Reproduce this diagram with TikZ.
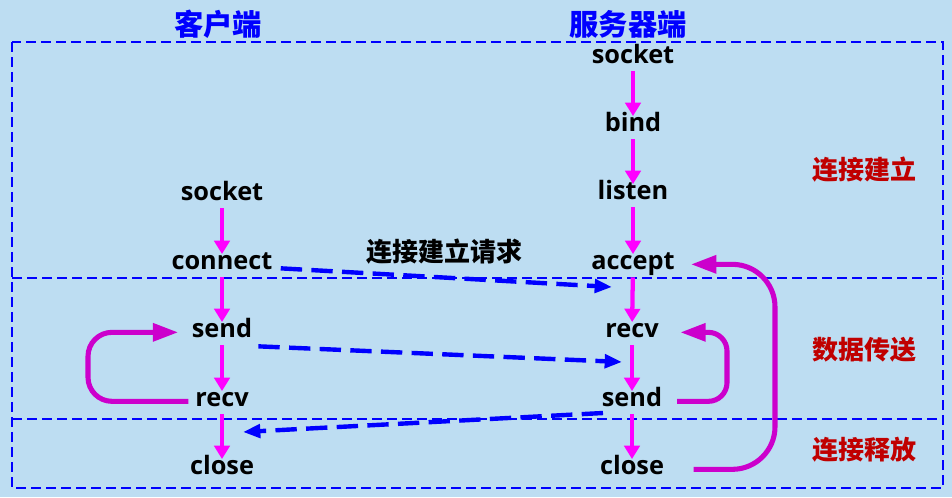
\documentclass[tikz,border=0pt]{standalone}
\usepackage{fontspec}
\setmainfont{Open Sans}
\newfontfamily\cjk{Noto Sans CJK SC}
\usetikzlibrary{arrows.meta}
\definecolor{bg}{RGB}{189,221,242}
\definecolor{mag}{RGB}{255,0,255}
\definecolor{loopc}{RGB}{204,0,204}
\definecolor{dred}{RGB}{192,0,0}
\definecolor{fblue}{RGB}{0,0,255}
\begin{document}
\begin{tikzpicture}[x=0.75pt,y=-0.75pt,
  lbl/.style={font=\fontsize{19}{22}\selectfont\bfseries, inner sep=0pt, text height=10pt, text depth=3pt, anchor=base},
  title/.style={font=\cjk\fontsize{22}{26}\selectfont\bfseries, text=fblue},
  phase/.style={font=\cjk\fontsize{19.5}{23}\selectfont\bfseries, text=dred},
  frame/.style={draw=fblue, line width=1.5pt, dash pattern=on 7.5pt off 3.75pt},
  varr/.style={draw=mag, line width=3.2pt, -{Triangle[length=10pt,width=11.5pt]}, shorten <=3pt, shorten >=1pt},
  loopa/.style={draw=loopc, line width=3.8pt, -{Triangle[length=19pt,width=13pt]}},
  darr/.style={draw=fblue, line width=3.3pt, dash pattern=on 16pt off 7pt, -{Triangle[length=13pt,width=10pt]}}]
\fill[bg] (0,0) rectangle (952,497);
\useasboundingbox (0,0) rectangle (952,497);
% frames
\draw[frame] (12,42) rectangle (943,488);
\draw[frame] (12,278) -- (943,278);
\draw[frame] (12,419) -- (943,419);
% titles
\node[title] (tc) at (218,24) {客户端};
\node[title] (ts) at (628,24) {服务器端};
\node[phase] (p1) at (864,170) {连接建立};
\node[phase] (p2) at (864,350) {数据传送};
\node[phase] (p3) at (864,450) {连接释放};
% server
\node[lbl] (ss) at (633,63) {socket};
\node[lbl] (sb) at (633,131) {bind};
\node[lbl] (sl) at (633,199) {listen};
\node[lbl] (sa) at (633,269) {accept};
\node[lbl] (sr) at (632,337) {recv};
\node[lbl] (sd) at (632,406) {send};
\node[lbl] (sc) at (632,474) {close};
% client
\node[lbl] (cs) at (222,200) {socket};
\node[lbl] (cc) at (222,269) {connect};
\node[lbl] (cd) at (222,337) {send};
\node[lbl] (cr) at (222,406) {recv};
\node[lbl] (cx) at (222,474) {close};
% vertical arrows
\draw[varr] (ss) -- (sb);
\draw[varr] (sb) -- (sl);
\draw[varr] (sl) -- (sa);
\draw[varr] (sa) -- (sr);
\draw[varr] (sr) -- (sd);
\draw[varr] (sd) -- (sc);
\draw[varr] (cs) -- (cc);
\draw[varr] (cc) -- (cd);
\draw[varr] (cd) -- (cr);
\draw[varr] (cr) -- (cx);
% loops
\coordinate (lc) at (88,0);
\coordinate (li) at (727,0);
\coordinate (lo) at (775,0);
\draw[loopa, rounded corners=18] ([xshift=-5]cr.west) -| (lc |- cd.west) -- ([xshift=-10]cd.west);
\draw[loopa, rounded corners=14] ([xshift=11]sd.east) -| (li |- sr.west) -- ([xshift=16]sr.east);
\draw[loopa, rounded corners=32] ([xshift=22]sc.east) -| (lo |- sa.west) -- ([xshift=12]sa.east);
% dashed messages
\coordinate (e1) at (612,287);
\coordinate (e2) at (622,362);
\coordinate (s3) at (603,413);
\coordinate (e3) at (243,432);
\draw[darr] ([shift={(8,4)}]cc.east) -- (e1);
\draw[darr] ([shift={(6,14)}]cd.east) -- (e2);
\draw[darr] (s3) -- (e3);
\node[font=\cjk\fontsize{19.5}{23}\selectfont\bfseries] (req) at (444,252) {连接建立请求};
\end{tikzpicture}
\end{document}
